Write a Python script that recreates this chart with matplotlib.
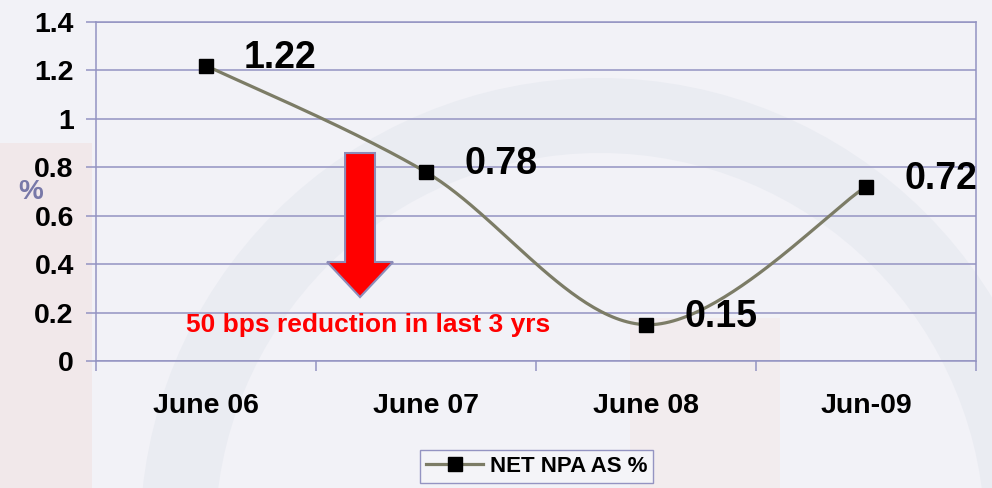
import numpy as np
import matplotlib.pyplot as plt
from matplotlib.patches import Wedge, Polygon, Rectangle

plt.rcParams['font.family'] = ['Liberation Sans', 'DejaVu Sans']

# Data
periods = ['June 06', 'June 07', 'June 08', 'Jun-09']
net_npa = [1.22, 0.78, 0.15, 0.72]
y_ticks = [0, 0.2, 0.4, 0.6, 0.8, 1, 1.2, 1.4]
y_tick_labels = ['0', '0.2', '0.4', '0.6', '0.8', '1', '1.2', '1.4']

grid_col = '#9494c2'
line_col = '#7c7c66'


def smooth(xs, ys, n=60):
    # Catmull-Rom style smoothing, like the spreadsheet "smoothed line"
    p = np.column_stack([xs, ys]).astype(float)
    p = np.vstack([p[0], p, p[-1]])
    out = []
    t = np.linspace(0, 1, n)[:, None]
    for i in range(1, len(p) - 2):
        p0, p1, p2, p3 = p[i - 1], p[i], p[i + 1], p[i + 2]
        c1 = p1 + (p2 - p0) / 6
        c2 = p2 - (p3 - p1) / 6
        seg = ((1 - t) ** 3) * p1 + 3 * ((1 - t) ** 2) * t * c1 + 3 * (1 - t) * t ** 2 * c2 + t ** 3 * p2
        out.append(seg)
    out = np.vstack(out)
    return out[:, 0], out[:, 1]


fig = plt.figure(figsize=(9.92, 4.88), dpi=100, facecolor='#f2f2f7')

# faint background watermark (inches from bottom-left)
tr = fig.dpi_scale_trans
fig.patches.append(Wedge((6.0, -0.5), 4.6, 0, 180, width=0.75, transform=tr,
                         facecolor='#e6e9f0', edgecolor='none', alpha=0.65, zorder=-5))
fig.patches.append(Rectangle((0, 0), 0.92, 3.45, transform=tr,
                             facecolor='#f1e6e7', edgecolor='none', alpha=0.8, zorder=-5))
fig.patches.append(Rectangle((6.3, 0), 1.5, 1.7, transform=tr,
                             facecolor='#f3e9e9', edgecolor='none', alpha=0.6, zorder=-5))

ax = fig.add_axes([0.0968, 0.2602, 0.8871, 0.6947])
ax.set_facecolor('none')

x = np.arange(len(periods))
sx, sy = smooth(x, net_npa)
ax.plot(sx, sy, color=line_col, lw=2.3, zorder=3)
ax.plot(x, net_npa, linestyle='none', marker='s', markersize=9.5, color='black', zorder=4)
# legend handle
ax.plot([], [], color=line_col, lw=2.3, marker='s', markersize=9.5,
        markerfacecolor='black', markeredgecolor='black', label='NET NPA AS %')

for xi, v in zip(x, net_npa):
    ax.annotate(f'{v:.2f}', (xi, v), xytext=(38, -2), textcoords='offset pixels',
                ha='left', va='baseline', fontsize=27, fontweight='bold', color='black', zorder=5)

ax.set_xlim(-0.5, len(periods) - 0.5)
ax.set_ylim(0, 1.4)
ax.set_yticks(y_ticks)
ax.set_yticklabels(y_tick_labels)
ax.yaxis.grid(True, color=grid_col, lw=1.1)
ax.set_axisbelow(True)

ax.set_xticks(x)
ax.set_xticklabels(periods)
ax.set_xticks(np.arange(len(periods) + 1) - 0.5, minor=True)
ax.tick_params(axis='x', which='major', length=0, pad=23, labelsize=20.5)
ax.tick_params(axis='x', which='minor', length=7, color=grid_col, width=1.1)
ax.tick_params(axis='y', length=7, color=grid_col, width=1.1, pad=9, labelsize=20.5)
for lab in ax.get_xticklabels() + ax.get_yticklabels():
    lab.set_fontweight('bold')

for s in ax.spines.values():
    s.set_color(grid_col)
    s.set_linewidth(1.1)

ax.set_ylabel('%', fontsize=20, fontweight='bold', color='#7878a8', rotation=0,
              labelpad=0, va='center', ha='center')
ax.yaxis.set_label_coords(-0.074, 0.50)

# red down arrow
arrow = Polygon([(0.632, 0.859), (0.768, 0.859), (0.768, 0.409), (0.85, 0.409),
                 (0.70, 0.264), (0.55, 0.409), (0.632, 0.409)],
                closed=True, facecolor='#ff0000', edgecolor='#8c8cb8', lw=1.5, zorder=3)
ax.add_patch(arrow)
ax.text(0.736, 0.149, '50 bps reduction in last 3 yrs', color='#ff0000', fontsize=19,
        fontweight='bold', ha='center', va='center', zorder=5)

leg = fig.legend(loc='center', bbox_to_anchor=(0.541, 0.044), fontsize=16, frameon=True,
                 fancybox=False, edgecolor=grid_col, facecolor='#f4f4f8', framealpha=1,
                 handlelength=2.6, borderpad=0.25, handletextpad=0.3)
for t in leg.get_texts():
    t.set_fontweight('bold')

fig.savefig('out.png', dpi=100, facecolor=fig.get_facecolor())
